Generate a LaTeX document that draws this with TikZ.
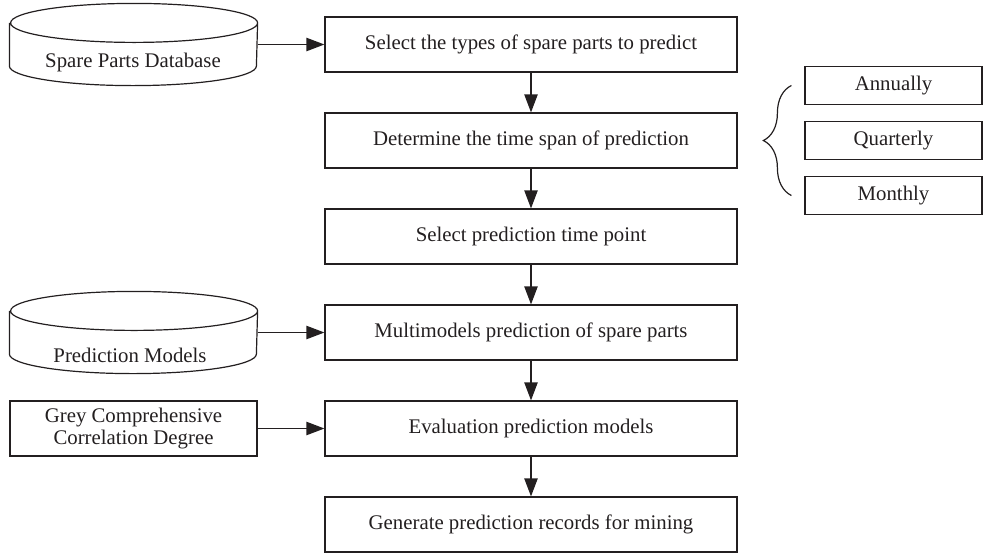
\documentclass[tikz,border=0pt]{standalone}
\usepackage{fontspec}
\setmainfont{Liberation Serif}
\usetikzlibrary{arrows.meta,decorations.pathreplacing}
\definecolor{ink}{HTML}{231F20}

\begin{document}
\begin{tikzpicture}[x=0.75pt,y=-0.75pt,line width=0.9pt,draw=ink,text=ink,
  txt/.style={font=\fontsize{15.6}{16.8}\selectfont},
  box/.style={txt,draw,inner sep=0pt,minimum width=309pt,minimum height=41.25pt},
  sidebox/.style={txt,draw,inner sep=0pt,minimum width=132.75pt,minimum height=28.5pt},
  leftbox/.style={txt,draw,inner sep=0pt,minimum width=185.25pt,minimum height=41.25pt,align=center},
  body/.style={inner sep=0pt,minimum width=185.25pt,minimum height=31.5pt},
  arr/.style={-{Triangle[length=13.5pt,width=10pt]}}]
\useasboundingbox (0,0) rectangle (984,554);

% main steps
\node[box] (select) at (531,44.5) {Select the types of spare parts to predict};
\node[box] (span) at (531,140.5) {Determine the time span of prediction};
\node[box] (tpoint) at (531,236.5) {Select prediction time point};
\node[box] (multi) at (531,332.5) {Multimodels prediction of spare parts};
\node[box] (evalu) at (531,428.5) {Evaluation prediction models};
\node[box] (gen) at (531,524.5) {Generate prediction records for mining};

% time spans
\node[sidebox] (ann) at (893.5,85.5) {Annually};
\node[sidebox] (quar) at (893.5,140.5) {Quarterly};
\node[sidebox] (mon) at (893.5,195.5) {Monthly};
\draw[decorate,decoration={brace,amplitude=21pt}]
  ([xshift=-9.75pt]mon.west) -- ([xshift=-9.75pt]ann.west);

% databases
\node[body] (sdb) at (133.5,44.5) {};
\draw (sdb.north west) -- (sdb.south west)
  arc[start angle=180,end angle=360,x radius=92.625pt,y radius=14.625pt]
  -- (sdb.north east)
  arc[start angle=0,end angle=360,x radius=92.625pt,y radius=14.625pt];
\node[txt,anchor=base] (sdbtext) at (133,67) {Spare Parts Database};

\node[body] (models) at (133.5,332.5) {};
\draw (models.north west) -- (models.south west)
  arc[start angle=180,end angle=360,x radius=92.625pt,y radius=14.625pt]
  -- (models.north east)
  arc[start angle=0,end angle=360,x radius=92.625pt,y radius=14.625pt];
\node[txt,anchor=base] (modtext) at (130,362) {Prediction Models};

\node[leftbox] (grey) at (133.5,428.5) {Grey Comprehensive\\Correlation Degree};

% arrows
\draw[arr] (sdb.east) -- (select.west);
\draw[arr] (models.east) -- (multi.west);
\draw[arr] (grey.east) -- (evalu.west);
\foreach \a/\b in {select/span,span/tpoint,tpoint/multi,multi/evalu,evalu/gen}
  \draw[arr] (\a) -- (\b);
\end{tikzpicture}
\end{document}
